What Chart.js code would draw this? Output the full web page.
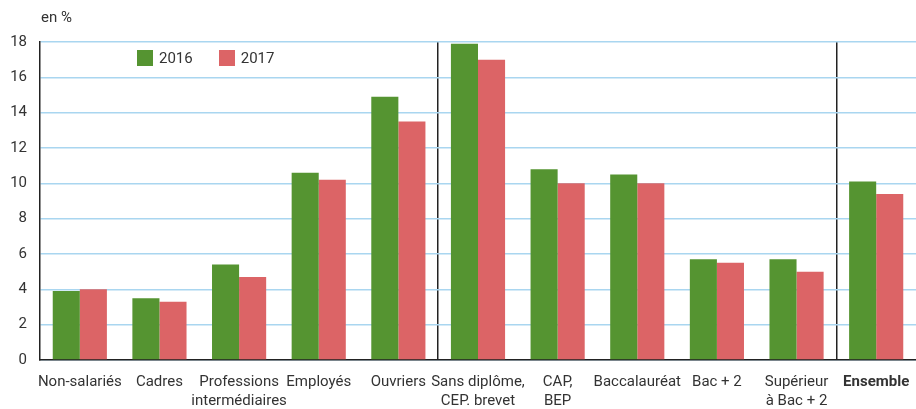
<!DOCTYPE html>
<html lang="fr">
<head>
    <meta charset="UTF-8">
    <title>Taux en %, 2016 et 2017</title>
    <script src="https://cdn.jsdelivr.net/npm/chart.js"></script>
    <style>
        body {
            margin: 0;
            padding: 0;
            background: #fff;
            font-family: 'Liberation Sans Narrow', Roboto, sans-serif;
            color: #333;
        }
        .wrap {
            position: relative;
            width: 916px;
            height: 409px;
        }
        .unit {
            position: absolute;
            left: 41px;
            top: 8px;
            font-size: 15px;
        }
        .legend {
            position: absolute;
            left: 137px;
            top: 49px;
            display: flex;
            gap: 26px;
            font-size: 15px;
        }
        .legend span {
            display: flex;
            align-items: center;
        }
        .legend i {
            display: inline-block;
            width: 16px;
            height: 16px;
            margin-right: 6px;
        }
    </style>
</head>
<body>
    <div class="wrap">
        <canvas id="chart" width="916" height="409"></canvas>
        <div class="unit">en %</div>
        <div class="legend">
            <span><i style="background:#559431"></i>2016</span>
            <span><i style="background:#dc6466"></i>2017</span>
        </div>
    </div>

    <script>
        // Data
        const categories = [
            'Non-salariés', 'Cadres', ['Professions', 'intermédiaires'], 'Employés', 'Ouvriers',
            ['Sans diplôme,', 'CEP. brevet'], ['CAP,', 'BEP'], 'Baccalauréat', 'Bac + 2',
            ['Supérieur', 'à Bac + 2'], 'Ensemble'
        ];
        const values2016 = [3.9, 3.5, 5.4, 10.6, 14.9, 17.9, 10.8, 10.5, 5.7, 5.7, 10.1];
        const values2017 = [4.0, 3.3, 4.7, 10.2, 13.5, 17.0, 10.0, 10.0, 5.5, 5.0, 9.4];
        const yTicks = [0, 2, 4, 6, 8, 10, 12, 14, 16, 18];

        const fontFamily = "'Liberation Sans Narrow', Roboto, sans-serif";
        const separators = [5, 10];

        new Chart(document.getElementById('chart'), {
            type: 'bar',
            data: {
                labels: categories,
                datasets: [
                    { label: '2016', data: values2016, backgroundColor: '#559431' },
                    { label: '2017', data: values2017, backgroundColor: '#dc6466' }
                ]
            },
            options: {
                responsive: false,
                animation: false,
                layout: { padding: { top: 42, right: 0, left: 0, bottom: 0 } },
                datasets: {
                    bar: { categoryPercentage: 0.68, barPercentage: 1.0 }
                },
                plugins: {
                    legend: { display: false },
                    tooltip: { enabled: false }
                },
                scales: {
                    x: {
                        grid: {
                            drawTicks: false,
                            color: ctx => separators.includes(ctx.index) ? '#222' : (ctx.index === categories.length ? '#d6eaf7' : 'rgba(0,0,0,0)'),
                            lineWidth: 1.5
                        },
                        border: { color: '#222', width: 1.5 },
                        ticks: {
                            color: '#333',
                            padding: 12,
                            maxRotation: 0,
                            autoSkip: false,
                            font: ctx => ({
                                family: fontFamily,
                                size: 15,
                                weight: ctx.index === categories.length - 1 ? 'bold' : 'normal',
                                lineHeight: 1.3
                            })
                        },
                        afterFit: scale => {
                            scale.height = 49;
                            scale.paddingLeft = 0;
                            scale.paddingRight = 0;
                        }
                    },
                    y: {
                        min: 0,
                        max: 18,
                        afterBuildTicks: scale => { scale.ticks = yTicks.map(v => ({ value: v })); },
                        grid: {
                            drawTicks: false,
                            color: '#a9d6f0',
                            lineWidth: 1.5
                        },
                        border: { color: '#222', width: 1.5 },
                        ticks: {
                            color: '#333',
                            padding: 13,
                            font: { family: fontFamily, size: 15 }
                        },
                        afterFit: scale => {
                            scale.width = 40;
                            scale.paddingTop = 0;
                            scale.paddingBottom = 0;
                        }
                    }
                }
            }
        });
    </script>
</body>
</html>
